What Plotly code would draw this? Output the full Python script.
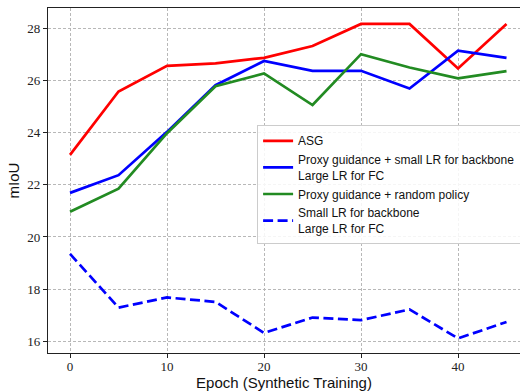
import plotly.graph_objects as go

epochs = [0, 5, 10, 15, 20, 25, 30, 35, 40, 45]
asg = [23.15, 25.58, 26.56, 26.66, 26.87, 27.32, 28.17, 28.17, 26.46, 28.17]
proxy_small_lr = [21.69, 22.37, 24.03, 25.82, 26.75, 26.37, 26.37, 25.69, 27.14, 26.87]
proxy_random = [20.97, 21.85, 23.98, 25.78, 26.27, 25.06, 27.01, 26.50, 26.08, 26.36]
small_lr = [19.35, 17.29, 17.68, 17.51, 16.32, 16.91, 16.81, 17.22, 16.11, 16.74]

x_ticks = [0, 10, 20, 30, 40]
y_ticks = [16, 18, 20, 22, 24, 26, 28]

names = ["ASG",
         "Proxy guidance + small LR for backbone<br>Large LR for FC",
         "Proxy guidance + random policy",
         "Small LR for backbone<br>Large LR for FC"]

fig = go.Figure()
fig.add_trace(go.Scatter(x=epochs, y=asg, mode="lines", name=names[0],
                         line=dict(color="#ff0000", width=2.7)))
fig.add_trace(go.Scatter(x=epochs, y=proxy_small_lr, mode="lines", name=names[1],
                         line=dict(color="#0000ff", width=2.7)))
fig.add_trace(go.Scatter(x=epochs, y=proxy_random, mode="lines", name=names[2],
                         line=dict(color="#228b22", width=2.7)))
fig.add_trace(go.Scatter(x=epochs, y=small_lr, mode="lines", name=names[3],
                         line=dict(color="#0000ff", width=2.7, dash="10px,4.5px")))

tick_font = dict(family="Liberation Serif, DejaVu Serif, serif", size=13, color="#222222")

fig.update_layout(
    width=520, height=391,
    margin=dict(l=48, r=0, t=8, b=38, autoexpand=False),
    paper_bgcolor="white", plot_bgcolor="white",
    font=dict(family="Liberation Sans, Arial, sans-serif", color="#111111"),
    xaxis=dict(range=[-2.27, 46.39], tickvals=x_ticks, ticks="outside", ticklen=4,
               tickcolor="#222222", showline=True, linecolor="#222222", linewidth=1.2,
               mirror=True, showgrid=True, gridcolor="#b8b8b8", griddash="3px,2px",
               gridwidth=0.8, zeroline=False, tickfont=tick_font, ticklabelstandoff=-3,
               title=dict(text="Epoch (Synthetic Training)", standoff=2,
                          font=dict(size=15))),
    yaxis=dict(range=[15.55, 28.78], tickvals=y_ticks, ticks="outside", ticklen=4,
               tickcolor="#222222", showline=True, linecolor="#222222", linewidth=1.2,
               showgrid=True, gridcolor="#b8b8b8", griddash="3px,2px",
               gridwidth=0.8, zeroline=False, tickfont=tick_font,
               title=dict(text="mIoU", standoff=4, font=dict(size=15))),
    legend=dict(x=0.443, y=0.66, xanchor="left", yanchor="top",
                bgcolor="rgba(255,255,255,0.85)", bordercolor="#cccccc", borderwidth=1,
                font=dict(size=12, family="Liberation Sans, Arial, sans-serif"),
                itemwidth=30, tracegroupgap=0),
    showlegend=True,
)

fig.write_html("out.html")
